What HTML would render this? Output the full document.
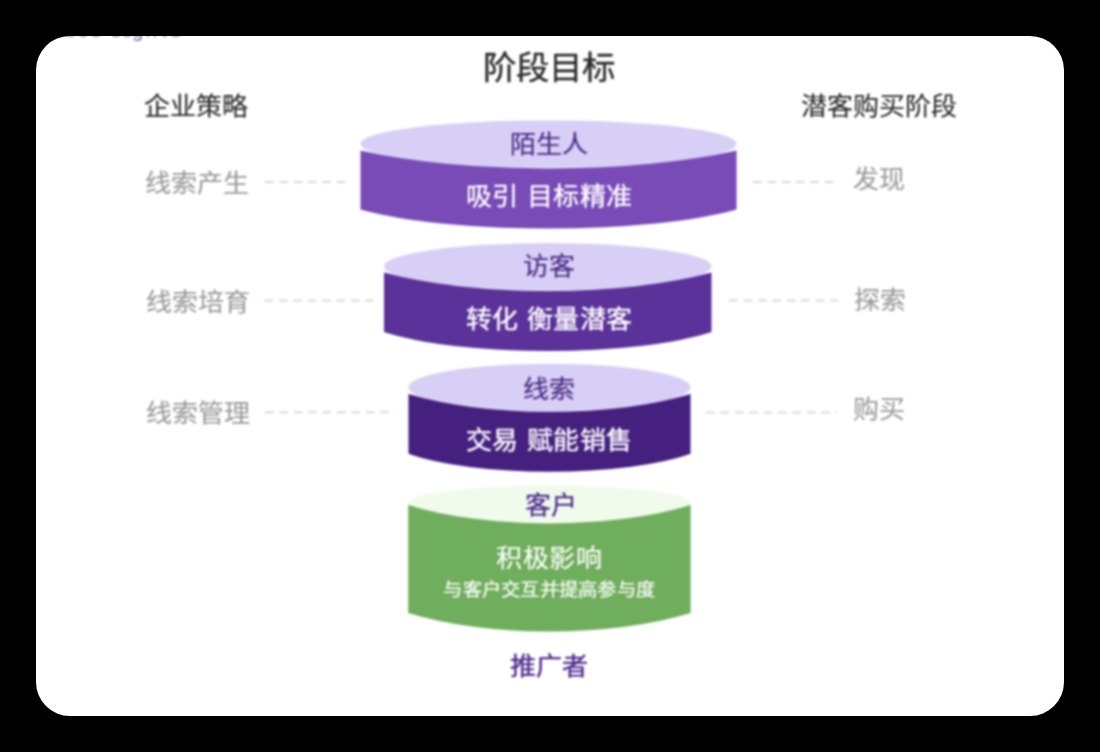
<!DOCTYPE html>
<html lang="zh-CN">
<head>
<meta charset="utf-8">
<style>
html,body{margin:0;padding:0;width:1100px;height:752px;background:#000;overflow:hidden}
body{font-family:"Liberation Sans",sans-serif;position:relative}
#wrap{position:absolute;left:0;top:0;width:1100px;height:752px}
#shapes{filter:blur(0.9px)}
#texts{position:absolute;left:0;top:0;width:1100px;height:752px;filter:blur(0.8px)}
#card{position:absolute;left:36px;top:36px;width:1028px;height:680px;background:#fff;border-radius:34px;overflow:hidden}
svg{position:absolute;left:0;top:0}
.t{position:absolute;white-space:nowrap;line-height:1;letter-spacing:0;transform:scaleY(0.94);transform-origin:50% 55%}
.title{font-size:33px;color:#2a2a2a;font-weight:500;-webkit-text-stroke:0.35px #2a2a2a}
.head{font-size:26px;color:#2a2a2a;font-weight:500;-webkit-text-stroke:0.15px #2a2a2a}
.lab{font-size:26px;color:#9a9a9a;-webkit-text-stroke:0.15px #9a9a9a}
.top{font-size:26px;color:#4a2a82;font-weight:500;-webkit-text-stroke:0.2px currentColor}
.side{font-size:26px;letter-spacing:0.6px;text-indent:0.6px;color:#fff;font-weight:500;-webkit-text-stroke:0.35px #fff}
.c{left:249px;width:600px;text-align:center}
</style>
</head>
<body>
<div id="card"><div style="position:absolute;left:0;top:-16.5px;width:300px;height:30px;font-size:20px;line-height:1;color:#7a6aa0;white-space:nowrap;filter:blur(0.8px)"><span style="position:absolute;left:29px;letter-spacing:1.5px">ooe</span><span style="position:absolute;left:75px;letter-spacing:1px">ss</span><span style="position:absolute;left:96px">g</span><span style="position:absolute;left:110px;letter-spacing:4px">hts</span></div></div>
<div id="wrap">

<svg id="shapes" width="1100" height="752" viewBox="0 0 1100 752">
  <!-- dashes -->
  <g stroke="#d9d9d9" stroke-width="2" stroke-dasharray="8.6,5.8">
    <line x1="265" y1="182" x2="346" y2="182"/>
    <line x1="753" y1="182" x2="835" y2="182"/>
    <line x1="264.5" y1="300.6" x2="373.5" y2="300.6"/>
    <line x1="729.3" y1="300.6" x2="838" y2="300.6"/>
    <line x1="265" y1="412.3" x2="395" y2="412.3"/>
    <line x1="706" y1="412.6" x2="837" y2="412.6"/>
  </g>
<!-- cyl -->
  <path d="M360.50,143.80 A188.00,23.40 0 0 1 736.50,143.80 A188.00,24.00 0 0 1 360.50,143.80 Z" fill="#d8cff6"/>
  <path d="M360.50,150.50 A263.20,59.64 0 0 0 736.50,150.50 L736.50,209.50 A225.60,42.48 0 0 1 360.50,209.50 Z" fill="#784bb7"/>
  <path d="M384.00,266.30 A163.75,23.20 0 0 1 711.50,266.30 A163.75,24.10 0 0 1 384.00,266.30 Z" fill="#d8cff6"/>
  <path d="M384.00,272.60 A229.25,61.30 0 0 0 711.50,272.60 L711.50,332.00 A196.50,42.48 0 0 1 384.00,332.00 Z" fill="#5b3299"/>
  <path d="M408.50,387.30 A141.00,23.50 0 0 1 690.50,387.30 A141.00,23.90 0 0 1 408.50,387.30 Z" fill="#d8cff6"/>
  <path d="M408.50,394.10 A197.40,58.97 0 0 0 690.50,394.10 L690.50,453.80 A169.20,40.25 0 0 1 408.50,453.80 Z" fill="#46207f"/>
  <path d="M408.20,502.80 A141.20,17.20 0 0 1 690.60,502.80 A141.20,20.30 0 0 1 408.20,502.80 Z" fill="#f0fbec"/>
  <path d="M408.20,505.00 A197.68,61.30 0 0 0 690.60,505.00 L690.60,613.00 A211.80,72.65 0 0 1 408.20,613.00 Z" fill="#6fae5c"/>
</svg>
<div id="texts">

<div class="t title" style="left:483px;top:52px;font-size:33.5px">阶段目标</div>
<div class="t head" style="left:144px;top:93px">企业策略</div>
<div class="t head" style="left:801px;top:93px">潜客购买阶段</div>

<div class="t lab" style="left:145px;top:169.5px">线索产生</div>
<div class="t lab" style="left:853px;top:166px">发现</div>
<div class="t lab" style="left:146px;top:288.5px">线索培育</div>
<div class="t lab" style="left:854px;top:286.5px">探索</div>
<div class="t lab" style="left:146px;top:399.5px">线索管理</div>
<div class="t lab" style="left:853px;top:395.5px">购买</div>

<div class="t top c" style="top:130.5px">陌生人</div>
<div class="t side c" style="top:183px">吸引 目标精准</div>
<div class="t top c" style="top:252.5px">访客</div>
<div class="t side c" style="top:306px">转化 衡量潜客</div>
<div class="t top c" style="top:375.5px">线索</div>
<div class="t side c" style="top:427px">交易 赋能销售</div>
<div class="t top c" style="top:491.5px;margin-left:1.5px;color:#4e2a8e;-webkit-text-stroke:0.3px #4e2a8e">客户</div>
<div class="t side c" style="top:544.5px;-webkit-text-stroke:0.15px #fff">积极影响</div>
<div class="t side c" style="top:579.5px;font-size:19.3px;letter-spacing:0.25px;text-indent:0.25px;-webkit-text-stroke:0.25px #fff">与客户交互并提高参与度</div>
<div class="t top c" style="top:652.5px;color:#4e2a8e;-webkit-text-stroke:0.45px #4e2a8e">推广者</div>
</div>
</div>
</body>
</html>
